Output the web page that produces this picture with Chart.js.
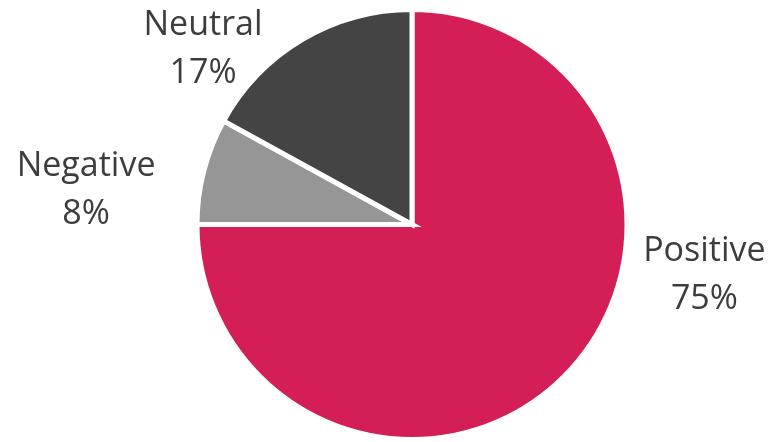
<!DOCTYPE html>
<html>
<head>
<meta charset="utf-8">
<script src="https://cdn.jsdelivr.net/npm/chart.js@4"></script>
<style>
  html, body { margin: 0; padding: 0; background: #ffffff; }
  #wrap { width: 773px; height: 442px; }
</style>
</head>
<body>
<div id="wrap"><canvas id="pie"></canvas></div>
<script>
// sentiment split, in percent
var labels = ['Positive', 'Negative', 'Neutral'];
var shares = [75, 8, 17];
var colors = ['#D31F55', '#969696', '#444444'];

// where each label sits, relative to pie centre, in units of the radius
var labelSpots = [
    { dx: 1.36, dy: 0.235 },
    { dx: -1.516, dy: -0.162 },
    { dx: -0.972, dy: -0.815 }
];

var outsideLabels = {
    id: 'outsideLabels',
    afterDatasetsDraw: function (chart) {
        var ctx = chart.ctx;
        var meta = chart.getDatasetMeta(0);
        ctx.save();
        ctx.fillStyle = '#3d3d3d';
        ctx.font = '34px "Open Sans"';
        ctx.textAlign = 'center';
        ctx.textBaseline = 'alphabetic';
        meta.data.forEach(function (arc, i) {
            var r = arc.outerRadius;
            var x = arc.x + labelSpots[i].dx * r;
            var y = arc.y + labelSpots[i].dy * r;
            ctx.fillText(labels[i], x, y - 14);
            ctx.fillText(shares[i] + '%', x, y + 34);
        });
        ctx.restore();
    }
};

var ctx = document.getElementById('pie').getContext('2d');
var myChart = new Chart(ctx, {
    type: 'pie',
    data: {
        labels: labels,
        datasets: [{
            data: shares,
            backgroundColor: colors,
            borderColor: '#ffffff',
            borderWidth: 5,
            borderJoinStyle: 'miter'
        }]
    },
    options: {
        responsive: true,
        maintainAspectRatio: false,
        animation: false,
        layout: {
            padding: { left: 51, right: 0, top: 7, bottom: -2 }
        },
        plugins: {
            legend: { display: false },
            tooltip: { enabled: false }
        }
    },
    plugins: [outsideLabels]
});
</script>
</body>
</html>
